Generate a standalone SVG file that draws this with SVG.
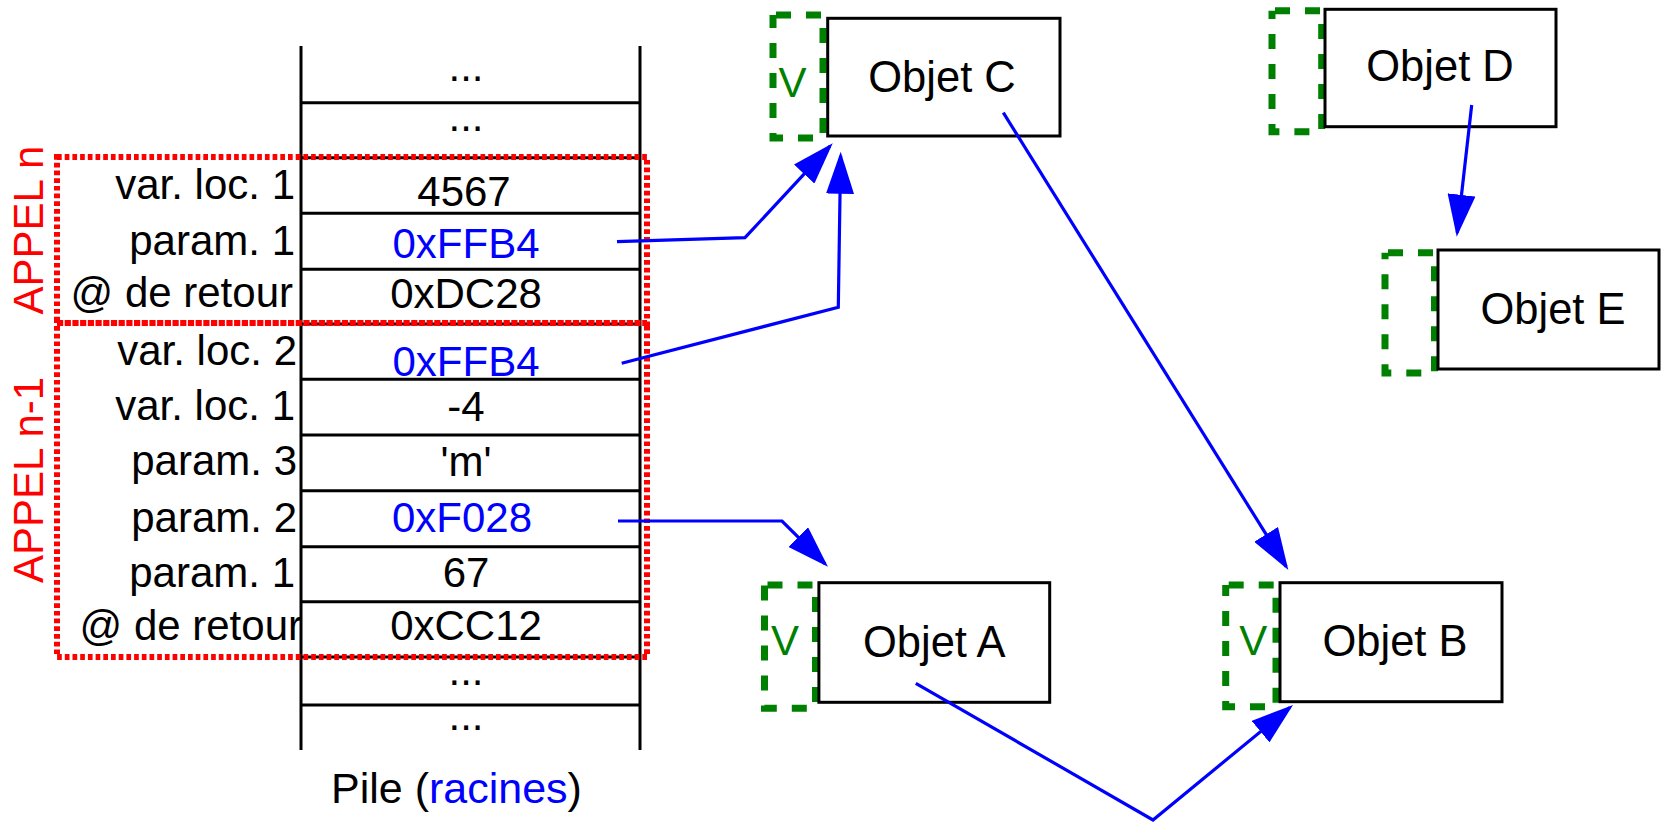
<svg xmlns="http://www.w3.org/2000/svg" width="1662" height="824" viewBox="0 0 1662 824">
<style>
text{font-family:"Liberation Sans",Arial,sans-serif;font-size:42px;fill:#000}
.lbl{text-anchor:end}
.val{text-anchor:middle}
.blue{fill:#0000ff}
.red{fill:#ff0000;font-size:42px;text-anchor:middle}
.grn{fill:#008000;text-anchor:middle}
.obj{text-anchor:middle;font-size:43.5px}
.pile{font-size:43px}
.stk{stroke:#000;stroke-width:3;fill:none}
.call{fill:none;stroke:#ff0000;stroke-width:6;stroke-dasharray:4.7 3}
.box{fill:#fff;stroke:#000;stroke-width:3}
.v{fill:none;stroke:#008000;stroke-width:7;stroke-dasharray:15 15;stroke-dashoffset:-3}
.conn{fill:none;stroke:#0000ff;stroke-width:3.2;marker-end:url(#arr)}
</style>
<defs>
<marker id="arr" viewBox="0 0 42 28" refX="38" refY="14" markerUnits="userSpaceOnUse" markerWidth="42" markerHeight="28" orient="auto">
<path d="M0,0 L42,14 L0,28 z" fill="#0000ff"/>
</marker>
</defs>
<rect width="1662" height="824" fill="#fff"/>
<g id="pile">
<g class="stk">
<line x1="301" y1="46" x2="301" y2="750"/>
<line x1="640" y1="46" x2="640" y2="750"/>
<line x1="301" y1="102.7" x2="640" y2="102.7"/>
<line x1="301" y1="157.7" x2="640" y2="157.7"/>
<line x1="301" y1="213.3" x2="640" y2="213.3"/>
<line x1="301" y1="269.3" x2="640" y2="269.3"/>
<line x1="301" y1="324" x2="640" y2="324"/>
<line x1="301" y1="379.3" x2="640" y2="379.3"/>
<line x1="301" y1="435" x2="640" y2="435"/>
<line x1="301" y1="490.7" x2="640" y2="490.7"/>
<line x1="301" y1="546.7" x2="640" y2="546.7"/>
<line x1="301" y1="601.7" x2="640" y2="601.7"/>
<line x1="301" y1="657" x2="640" y2="657"/>
<line x1="301" y1="705" x2="640" y2="705"/>
</g>
<text class="val" x="466" y="81">...</text>
<text class="val" x="466" y="131">...</text>
<text class="val" x="464" y="206">4567</text>
<text class="val blue" x="466" y="258">0xFFB4</text>
<text class="val" x="466" y="308">0xDC28</text>
<text class="val blue" x="466" y="376">0xFFB4</text>
<text class="val" x="466" y="420.5">-4</text>
<text class="val" x="466" y="476">'m'</text>
<text class="val blue" x="462" y="531.5">0xF028</text>
<text class="val" x="466" y="586.5">67</text>
<text class="val" x="466" y="640">0xCC12</text>
<text class="val" x="466" y="685">...</text>
<text class="val" x="466" y="730">...</text>
<text class="lbl" x="295" y="199">var. loc. 1</text>
<text class="lbl" x="295" y="255">param. 1</text>
<text class="lbl" x="293" y="306.5">@ de retour</text>
<text class="lbl" x="297" y="365">var. loc. 2</text>
<text class="lbl" x="295" y="420">var. loc. 1</text>
<text class="lbl" x="297" y="475">param. 3</text>
<text class="lbl" x="297" y="531.5">param. 2</text>
<text class="lbl" x="295" y="586.5">param. 1</text>
<text class="lbl" x="302" y="640">@ de retour</text>
<text class="pile" x="331" y="803">Pile (<tspan class="blue">racines</tspan>)</text>
</g>
<g id="appel-n">
<rect class="call" x="57" y="157" width="590" height="166"/>
<text class="red" transform="translate(43,230) rotate(-90)">APPEL n</text>
</g>
<g id="appel-n-1">
<rect class="call" x="57" y="323" width="590" height="334"/>
<text class="red" transform="translate(43,480) rotate(-90)">APPEL n-1</text>
</g>
<g id="objet-c">
<rect class="v" x="773" y="15" width="50" height="123"/>
<text class="grn" x="792.5" y="96.5">V</text>
<rect class="box" x="827.7" y="18.3" width="232.3" height="117.7"/>
<text class="obj" x="942" y="92">Objet C</text>
</g>
<g id="objet-d">
<rect class="v" x="1272" y="10.7" width="49.7" height="121"/>
<rect class="box" x="1325" y="9.3" width="231" height="117.4"/>
<text class="obj" x="1440" y="81">Objet D</text>
</g>
<g id="objet-e">
<rect class="v" x="1385" y="252.7" width="49.5" height="120.3"/>
<rect class="box" x="1438" y="250" width="221" height="119"/>
<text class="obj" x="1553" y="324">Objet E</text>
</g>
<g id="objet-a">
<rect class="v" x="764.5" y="585" width="51" height="123.3"/>
<text class="grn" x="785" y="655">V</text>
<rect class="box" x="818.9" y="582.7" width="230.8" height="119.6"/>
<text class="obj" x="934.3" y="657">Objet A</text>
</g>
<g id="objet-b">
<rect class="v" x="1225.7" y="585" width="50.3" height="121.7"/>
<text class="grn" x="1253.3" y="655">V</text>
<rect class="box" x="1280" y="582.7" width="222" height="119"/>
<text class="obj" x="1395" y="656">Objet B</text>
</g>
<g id="connectors">
<polyline class="conn" points="617,241.7 745,237.7 830,146.2"/>
<polyline class="conn" points="621.7,363.3 838.3,307.3 840.6,155.7"/>
<polyline class="conn" points="618,521 782,521 825.1,563.9"/>
<polyline class="conn" points="915.8,683.3 1153,820 1289.9,707.5"/>
<polyline class="conn" points="1003.3,112.7 1286.2,566.6"/>
<polyline class="conn" points="1471.7,105 1457.2,232.7"/>
</g>
</svg>
